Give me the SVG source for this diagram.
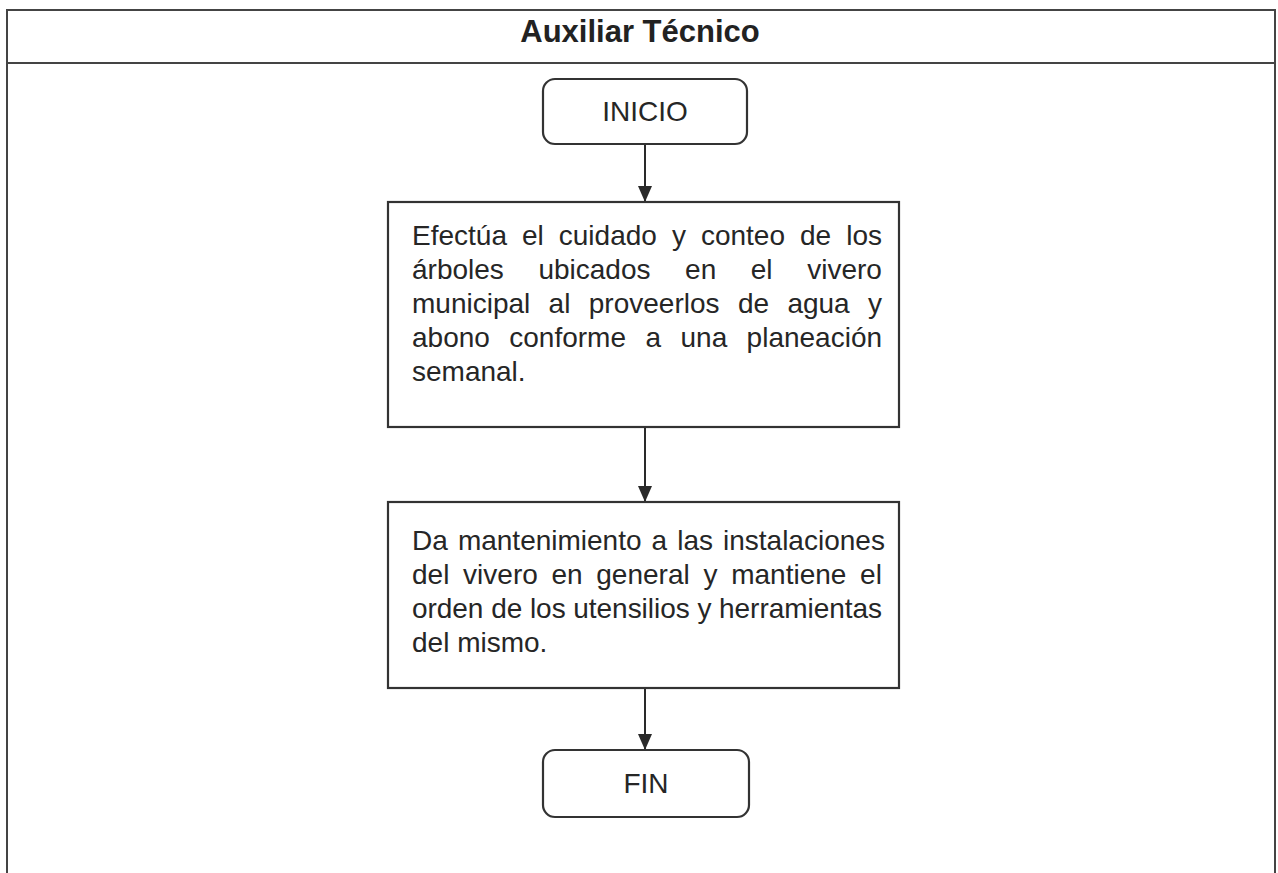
<svg xmlns="http://www.w3.org/2000/svg" width="1278" height="873" viewBox="0 0 1278 873">
<defs>
<marker id="ah" viewBox="0 0 16 14" refX="16" refY="7" markerWidth="16" markerHeight="14" markerUnits="userSpaceOnUse" orient="auto">
<path d="M0,0 L16,7 L0,14 Z" fill="#2a2a2a"/>
</marker>
<style>
.frame{fill:none;stroke:#444;stroke-width:2}
.box{fill:#fff;stroke:#333;stroke-width:2.2}
.t{font-family:"Liberation Sans",Arial,sans-serif;font-size:28px;fill:#262626}
.title{font-family:"Liberation Sans",Arial,sans-serif;font-size:31px;font-weight:bold;fill:#222}
.conn{stroke:#2a2a2a;stroke-width:2;fill:none}
</style>
</defs>
<rect width="1278" height="873" fill="#fff"/>
<g id="frame">
<path class="frame" d="M7,873 L7,10 L1275,10 L1275,873"/>
<line class="frame" x1="7" y1="63" x2="1275" y2="63"/>
<text class="title" x="640" y="42" text-anchor="middle">Auxiliar Técnico</text>
</g>
<g id="connectors">
<line class="conn" x1="645" y1="144" x2="645" y2="202" marker-end="url(#ah)"/>
<line class="conn" x1="645" y1="427" x2="645" y2="502" marker-end="url(#ah)"/>
<line class="conn" x1="645" y1="688" x2="645" y2="750" marker-end="url(#ah)"/>
</g>
<g id="inicio">
<rect class="box" x="543" y="79" width="204" height="65" rx="12"/>
<text class="t" x="645" y="121" text-anchor="middle">INICIO</text>
</g>
<g id="paso1">
<rect class="box" x="388" y="202" width="511" height="225"/>
<text class="t" y="245"><tspan x="412">Efectúa</tspan><tspan x="521.9">el</tspan><tspan x="558.8">cuidado</tspan><tspan x="671.9">y</tspan><tspan x="700.9">conteo</tspan><tspan x="800">de</tspan><tspan x="846.2">los</tspan></text>
<text class="t" y="279"><tspan x="412">árboles</tspan><tspan x="538.4">ubicados</tspan><tspan x="685.1">en</tspan><tspan x="750.8">el</tspan><tspan x="807.2">vivero</tspan></text>
<text class="t" y="313"><tspan x="412">municipal</tspan><tspan x="548.6">al</tspan><tspan x="588.8">proveerlos</tspan><tspan x="737.9">de</tspan><tspan x="787.4">agua</tspan><tspan x="868.1">y</tspan></text>
<text class="t" y="347"><tspan x="412">abono</tspan><tspan x="509.3">conforme</tspan><tspan x="645.4">a</tspan><tspan x="680.5">una</tspan><tspan x="746.6">planeación</tspan></text>
<text class="t" x="412" y="381">semanal.</text>
</g>
<g id="paso2">
<rect class="box" x="388" y="502" width="511" height="186"/>
<text class="t" y="550"><tspan x="412">Da</tspan><tspan x="457.9">mantenimiento</tspan><tspan x="651.5">a</tspan><tspan x="677.2">las</tspan><tspan x="723">instalaciones</tspan></text>
<text class="t" y="584"><tspan x="412">del</tspan><tspan x="463.1">vivero</tspan><tspan x="551.5">en</tspan><tspan x="596.3">general</tspan><tspan x="703.4">y</tspan><tspan x="731.2">mantiene</tspan><tspan x="860.1">el</tspan></text>
<text class="t" x="412" y="618" textLength="470" lengthAdjust="spacing">orden de los utensilios y herramientas</text>
<text class="t" x="412" y="652">del mismo.</text>
</g>
<g id="fin">
<rect class="box" x="543" y="750" width="206" height="67" rx="12"/>
<text class="t" x="646" y="793" text-anchor="middle">FIN</text>
</g>
</svg>
